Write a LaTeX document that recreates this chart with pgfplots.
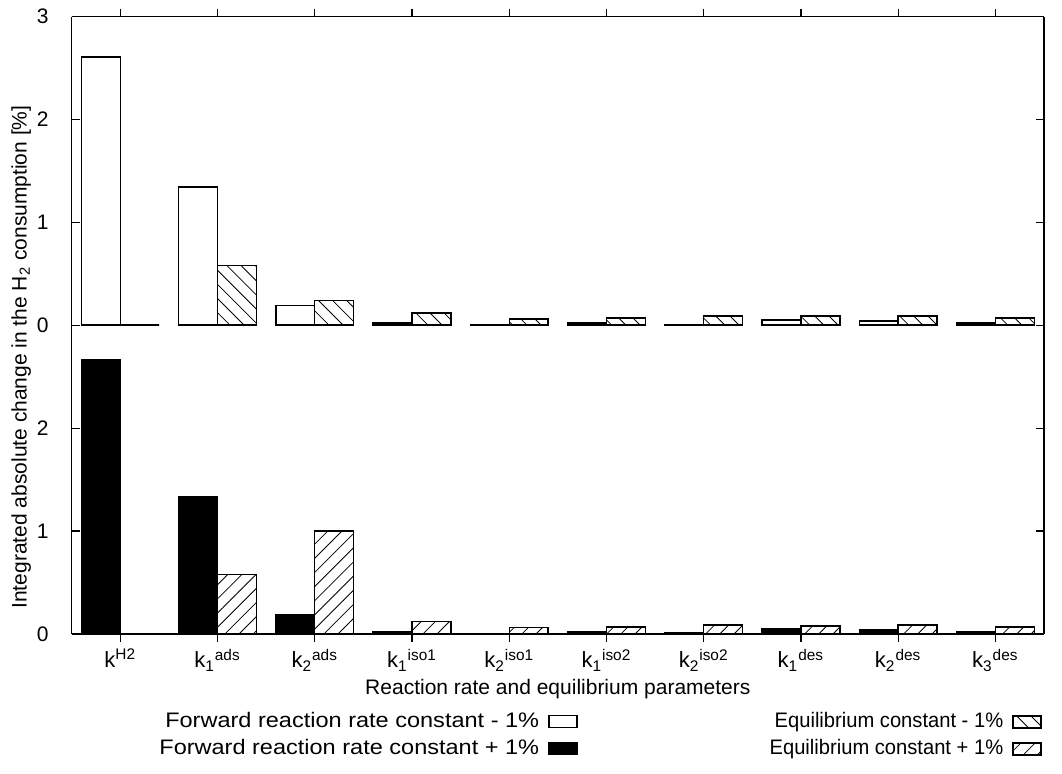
\documentclass[border=0pt]{standalone}
\usepackage{fontspec}
\setmainfont{Liberation Sans}
\usepackage{graphicx}
\usepackage{pgfplots}
\usepackage{pgfplotstable}
\pgfplotsset{compat=1.18}
\usetikzlibrary{patterns.meta}

% x = parameter index; fm = forward -1%, em = equilibrium -1%, fp = forward +1%, ep = equilibrium +1%
\pgfplotstableread{
x fm    em    fp    ep
0 2.61  0.0   2.665 0.0
1 1.344 0.58  1.334 0.578
2 0.19  0.243 0.19  1.0
3 0.02  0.117 0.02  0.117
4 0.003 0.061 0.003 0.062
5 0.022 0.07  0.02  0.065
6 0.008 0.09  0.01  0.085
7 0.052 0.09  0.052 0.075
8 0.042 0.09  0.04  0.085
9 0.023 0.07  0.024 0.065
}\datatable

\tikzset{
  fwdminus/.style={draw=black, fill=white, line width=0.7pt},
  fwdplus/.style={draw=black, fill=black, line width=0.7pt},
  eqminus/.style={draw=black, line width=0.7pt, pattern={Lines[angle=-45,distance=5pt,line width=0.4pt]}},
  eqplus/.style={draw=black, line width=0.7pt, pattern={Lines[angle=45,distance=5pt,line width=0.4pt]}},
}

\pgfplotsset{
  panel/.style={
    scale only axis,
    width=486.15pt, height=154.25pt,
    xmin=-0.5, xmax=9.5, ymin=0, ymax=3,
    xtick={0,...,9},
    tick align=inside,
    major tick length=4pt,
    axis line style={line width=0.8pt},
    every tick/.style={black, line width=0.6pt},
    ybar, bar width=0.4,
    font=\fontsize{10.5}{12}\selectfont,
    /pgf/number format/assume math mode=true,
    yticklabel style={xshift=-8pt},
    xticklabel style={font=\fontsize{11}{12}\selectfont},
    legend plot pos=right,
    legend cell align=right,
    legend image code/.code={\draw[##1] (0pt,-3pt) rectangle (14pt,3pt);},
  },
}

\begin{document}
\begin{tikzpicture}
\useasboundingbox (0,0) rectangle (531pt,-387pt);

% ---------- top panel ----------
\begin{axis}[panel,
  at={(35.85pt,-8.35pt)}, anchor=north west,
  axis x line*=top, axis y line*=box,
  xticklabels={},
  ytick={0,1,2,3},
  legend style={at={(axis description cs:0.5207,-1.25)}, anchor=north east,
    draw=none, fill=none, inner sep=0pt,
    nodes={inner sep=0pt, text height=8pt, text depth=2.5pt},
    row sep=3pt, column sep=4.5pt,
    font=\fontsize{10.5}{12}\selectfont},
]
\addplot[fwdminus, bar shift=-0.2] table[x=x, y=fm] {\datatable};
\addlegendentry{\scalebox{1.12}[1]{Forward reaction rate constant - 1\%}}
\addplot[eqminus, bar shift=0.2, forget plot] table[x=x, y=em] {\datatable};
\addlegendimage{fwdplus}
\addlegendentry{\scalebox{1.12}[1]{Forward reaction rate constant + 1\%}}
\end{axis}

% ---------- bottom panel ----------
\begin{axis}[panel,
  at={(35.85pt,-162.65pt)}, anchor=north west,
  axis x line*=bottom, axis y line*=box,
  ytick={0,1,2},
  xticklabels={
    k\textsuperscript{H2},
    k\textsubscript{1}\textsuperscript{ads},
    k\textsubscript{2}\textsuperscript{ads},
    k\textsubscript{1}\textsuperscript{iso1},
    k\textsubscript{2}\textsuperscript{iso1},
    k\textsubscript{1}\textsuperscript{iso2},
    k\textsubscript{2}\textsuperscript{iso2},
    k\textsubscript{1}\textsuperscript{des},
    k\textsubscript{2}\textsuperscript{des},
    k\textsubscript{3}\textsuperscript{des}},
  xlabel={Reaction rate and equilibrium parameters},
  xlabel style={at={(axis description cs:0.5,-0.179)}, anchor=center},
  ylabel={Integrated absolute change in the H\textsubscript{2} consumption [\%]},
  ylabel style={at={(axis description cs:-0.052,0.897)}, anchor=center},
  legend style={at={(axis description cs:0.998,-0.2507)}, anchor=north east,
    draw=none, fill=none, inner sep=0pt,
    nodes={inner sep=0pt, text height=8pt, text depth=2.5pt},
    row sep=3pt, column sep=4.5pt,
    font=\fontsize{10.5}{12}\selectfont},
]
\addlegendimage{eqminus}
\addlegendentry{\scalebox{0.96}[1]{Equilibrium constant - 1\%}}
\addplot[fwdplus, bar shift=-0.2, forget plot] table[x=x, y=fp] {\datatable};
\addplot[eqplus, bar shift=0.2] table[x=x, y=ep] {\datatable};
\addlegendentry{\scalebox{0.96}[1]{Equilibrium constant + 1\%}}
\end{axis}
\end{tikzpicture}
\end{document}
